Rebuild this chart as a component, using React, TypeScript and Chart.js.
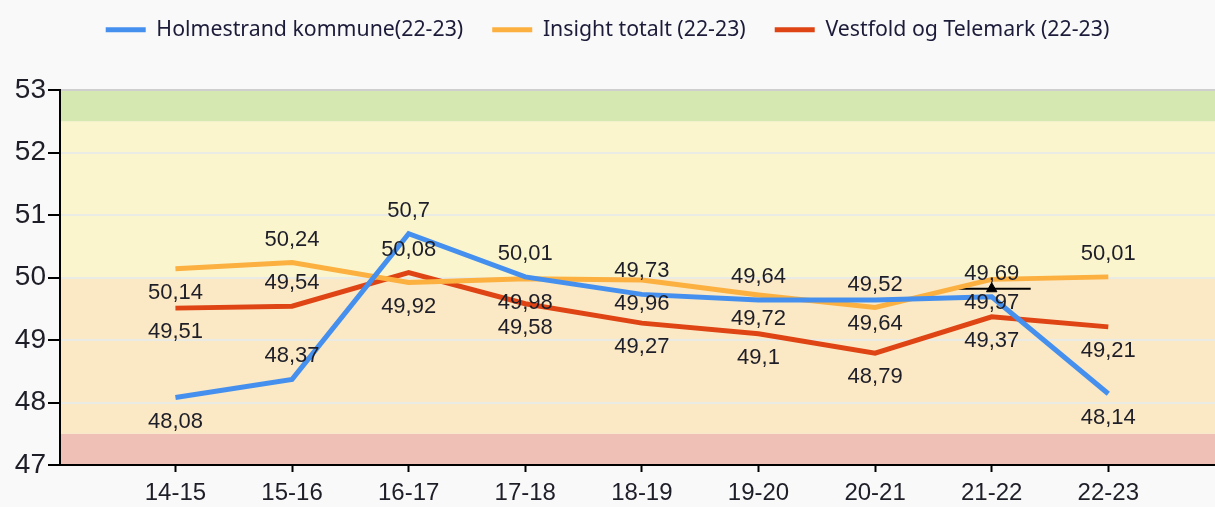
import React, { useEffect, useRef } from "react";
import { Chart, registerables } from "chart.js";

Chart.register(...registerables);

const categories = ["14-15", "15-16", "16-17", "17-18", "18-19", "19-20", "20-21", "21-22", "22-23"];
const holmestrand = [48.08, 48.37, 50.7, 50.01, 49.73, 49.64, 49.64, 49.69, 48.14];
const insight = [50.14, 50.24, 49.92, 49.98, 49.96, 49.72, 49.52, 49.97, 50.01];
const vestfold = [49.51, 49.54, 50.08, 49.58, 49.27, 49.1, 48.79, 49.37, 49.21];
const markerValues = [null, null, null, null, null, null, null, 49.82, null];

const seriesNames = ["Holmestrand kommune(22-23)", "Insight totalt (22-23)", "Vestfold og Telemark (22-23)"];
const seriesColors = ["#4590ee", "#fbb040", "#de4414"];

// label placement per point: 1 = above, -1 = below
const holmLabelSide = [-1, 1, 1, 1, 1, 1, -1, 1, -1];
const insightLabelSide = [-1, 1, -1, -1, -1, -1, 1, -1, 1];
const vestLabelSide = [-1, 1, 1, -1, -1, -1, -1, -1, -1];

const yTicks = [47, 48, 49, 50, 51, 52, 53];
const bandLimits = [47, 47.5, 50, 52.5, 53];
const bandColors = ["#efc0b6", "#fbe8c4", "#faf5cd", "#d5e8b1"];

export default function App() {
  const ref = useRef<HTMLCanvasElement | null>(null);
  useEffect(() => {
    if (!ref.current) return;
    const sides = [holmLabelSide, insightLabelSide, vestLabelSide];
    const values = [holmestrand, insight, vestfold];

    const bandsPlugin = {
      id: "bands",
      beforeDraw(chart: any) {
        const { ctx, chartArea, scales } = chart;
        const y = scales.y;
        ctx.save();
        for (let i = 0; i < bandColors.length; i++) {
          const top = y.getPixelForValue(bandLimits[i + 1]);
          const bot = y.getPixelForValue(bandLimits[i]);
          ctx.fillStyle = bandColors[i];
          ctx.fillRect(chartArea.left, top, chartArea.right - chartArea.left, bot - top);
        }
        ctx.restore();
      },
    };

    const labelsPlugin = {
      id: "valueLabels",
      afterDatasetsDraw(chart: any) {
        const { ctx } = chart;
        ctx.save();
        ctx.font = "22px 'Liberation Sans', Arial, sans-serif";
        ctx.fillStyle = "#1e1e28";
        ctx.textAlign = "center";
        ctx.textBaseline = "middle";
        for (let d = 0; d < 3; d++) {
          const meta = chart.getDatasetMeta(d);
          meta.data.forEach((pt: any, i: number) => {
            const txt = String(values[d][i]).replace(".", ",");
            const off = sides[d][i] === 1 ? -23 : 24;
            ctx.fillText(txt, pt.x, pt.y + off);
          });
        }
        ctx.restore();
      },
    };

    const legendSpacing = {
      id: "legendSpacing",
      beforeInit(chart: any) {
        const origFit = chart.legend.fit;
        chart.legend.fit = function () {
          origFit.bind(chart.legend)();
          this.height = 90;
        };
      },
      afterLayout(chart: any) {
        chart.legend.top = -10;
      },
    };

    const mkLine = (i: number, data: number[]) => ({
      label: seriesNames[i],
      data: data.map((v, k) => ({ x: k, y: v })),
      borderColor: seriesColors[i],
      backgroundColor: seriesColors[i],
      borderWidth: 5,
      pointRadius: 0,
      pointHoverRadius: 0,
      tension: 0,
      fill: false,
    });

    const chart = new Chart(ref.current, {
      type: "line",
      data: {
        datasets: [
          mkLine(0, holmestrand),
          mkLine(1, insight),
          mkLine(2, vestfold),
          {
            label: "marker-line",
            data: markerValues.map((v, k) => ({ x: k, y: v })),
            showLine: false,
            pointStyle: "line",
            pointRadius: 39,
            borderColor: "#000",
            backgroundColor: "#000",
            borderWidth: 2,
          } as any,
          {
            label: "marker-tri",
            data: markerValues.map((v, k) => ({ x: k, y: v })),
            showLine: false,
            pointStyle: "triangle",
            pointRadius: 6,
            borderColor: "#000",
            backgroundColor: "#000",
            borderWidth: 1,
          } as any,
        ],
      },
      options: {
        animation: false,
        responsive: false,
        maintainAspectRatio: false,
        layout: { padding: 0, autoPadding: false },
        plugins: {
          tooltip: { enabled: false },
          legend: {
            display: true,
            position: "top",
            labels: {
              boxWidth: 40,
              boxHeight: 5,
              padding: 29,
              color: "#1c1c3a",
              font: { family: "'Noto Sans', sans-serif", size: 21.3 },
              filter: (item: any) => item.datasetIndex < 3,
              generateLabels: (chart: any) =>
                chart.data.datasets.map((ds: any, i: number) => ({
                  text: ds.label,
                  fillStyle: ds.borderColor,
                  strokeStyle: ds.borderColor,
                  lineWidth: 0,
                  hidden: false,
                  datasetIndex: i,
                  fontColor: "#1c1c3a",
                })),
            },
          },
        },
        scales: {
          x: {
            type: "linear",
            min: -0.99,
            max: 8.915,
            afterBuildTicks: (s: any) => {
              s.ticks = categories.map((_, i) => ({ value: i }));
            },
            afterFit: (s: any) => {
              s.height = 42;
            },
            ticks: {
              callback: (v: any) => categories[v as number] ?? "",
              color: "#1e1e28",
              font: { family: "'Liberation Sans', Arial, sans-serif", size: 24 },
              padding: 7,
              maxRotation: 0,
              autoSkip: false,
            },
            grid: { drawOnChartArea: false, drawTicks: true, tickLength: 7, tickColor: "#000", tickWidth: 2 },
            border: { color: "#000", width: 2 },
          },
          y: {
            min: 47,
            max: 53,
            afterBuildTicks: (s: any) => {
              s.ticks = yTicks.map((v) => ({ value: v }));
            },
            afterFit: (s: any) => {
              s.width = 60;
            },
            ticks: {
              color: "#1e1e28",
              font: { family: "'Liberation Sans', Arial, sans-serif", size: 28 },
              padding: 2,
            },
            grid: {
              color: (c: any) => (c.tick && c.tick.value === 53 ? "#cfcfcf" : "#ebebe6"),
              lineWidth: 2,
              tickLength: 12,
              tickColor: "#000",
              tickWidth: 2,
            },
            border: { color: "#000", width: 2 },
          },
        },
      },
      plugins: [bandsPlugin, labelsPlugin, legendSpacing],
    });
    return () => chart.destroy();
  }, []);

  return (
    <div style={{ position: "fixed", left: 0, top: 0, width: 1215, height: 507, background: "#f9f9f9", overflow: "hidden" }}>
      <canvas ref={ref} width={1215} height={507} style={{ display: "block" }} />
    </div>
  );
}
